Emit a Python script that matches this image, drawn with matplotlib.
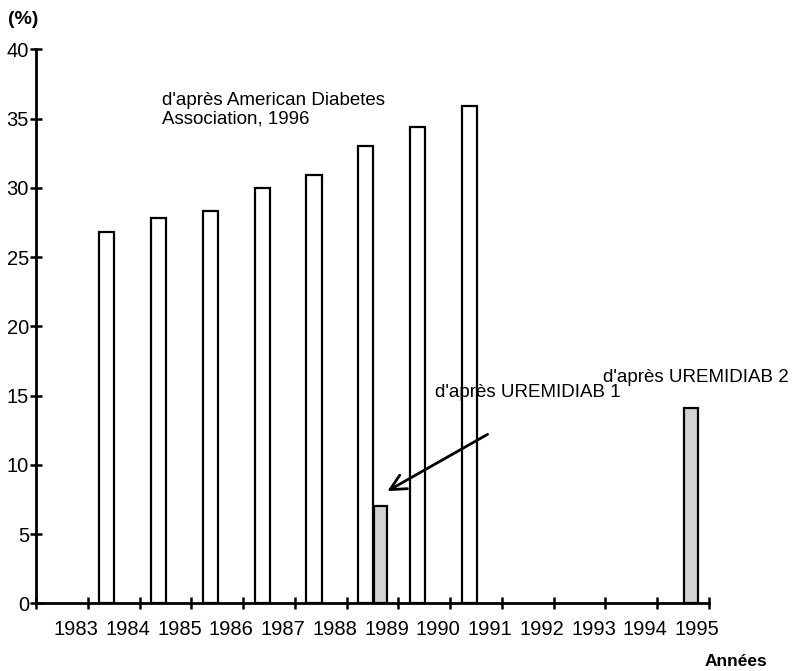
import matplotlib
matplotlib.use('Agg')
import matplotlib.pyplot as plt
import numpy as np

plt.rcParams['font.family'] = ['Liberation Sans', 'DejaVu Sans']

# données
annees = list(range(1983, 1996))
ada_annees = [1983, 1984, 1985, 1986, 1987, 1988, 1989, 1990]
ada_valeurs = [26.8, 27.8, 28.35, 30.0, 30.9, 33.0, 34.4, 35.9]
urem_annees = [1989, 1995]
urem_valeurs = [7.05, 14.1]

fig = plt.figure(figsize=(7.93, 6.71), dpi=100)
ax = fig.add_axes([36/793, (671-603.3)/671, (709-36)/793, (603.3-49.3)/671])

# barres blanches (ADA) et grises (UREMIDIAB)
x_ada = np.array(ada_annees) - 1982 + 0.37
ax.bar(x_ada, ada_valeurs, width=0.29, facecolor='white', edgecolor='black', linewidth=1.6, zorder=2)
x_urem = np.array(urem_annees) - 1982 - 0.345
ax.bar(x_urem, urem_valeurs, width=0.26, facecolor='#d2d2d2', edgecolor='black', linewidth=1.6, zorder=2)

ax.set_xlim(0, 13)
ax.set_ylim(0, 40)
for s in ['top', 'right']:
    ax.spines[s].set_visible(False)
for s in ['left', 'bottom']:
    ax.spines[s].set_linewidth(2)
    ax.spines[s].set_zorder(3)

ax.set_yticks(np.arange(0, 41, 5))
ax.tick_params(axis='y', direction='inout', length=8, width=1.8, labelsize=14.5, pad=1)
ax.set_xticks(np.arange(0, 14))
ax.set_xticklabels([])
ax.tick_params(axis='x', which='major', direction='inout', length=8, width=1.8)
ax.set_xticks(np.array(annees) - 1982 - 0.23, minor=True)
ax.set_xticklabels([str(a) for a in annees], minor=True)
ax.tick_params(axis='x', which='minor', length=0, labelsize=14.5, pad=12)

ax.text(2.43, 36.9, "d'après American Diabetes\nAssociation, 1996", fontsize=13.5,
        va='top', ha='left', linespacing=1.1)
ax.text(7.71, 15.2, "d'après UREMIDIAB 1", fontsize=13.5, va='center', ha='left')
ax.text(10.95, 16.3, "d'après UREMIDIAB 2", fontsize=13.5, va='center', ha='left')
ax.annotate('', xy=(6.74, 8.0), xytext=(8.77, 12.3),
            arrowprops=dict(arrowstyle='->', lw=2, color='black', mutation_scale=28))

fig.text(8/793, 1 - 19/671, '(%)', fontsize=14, fontweight='bold', va='center', ha='left')
fig.text(705/793, 1 - 661/671, 'Années', fontsize=12.5, fontweight='bold', va='center', ha='left')

fig.savefig('out.png', dpi=100)
